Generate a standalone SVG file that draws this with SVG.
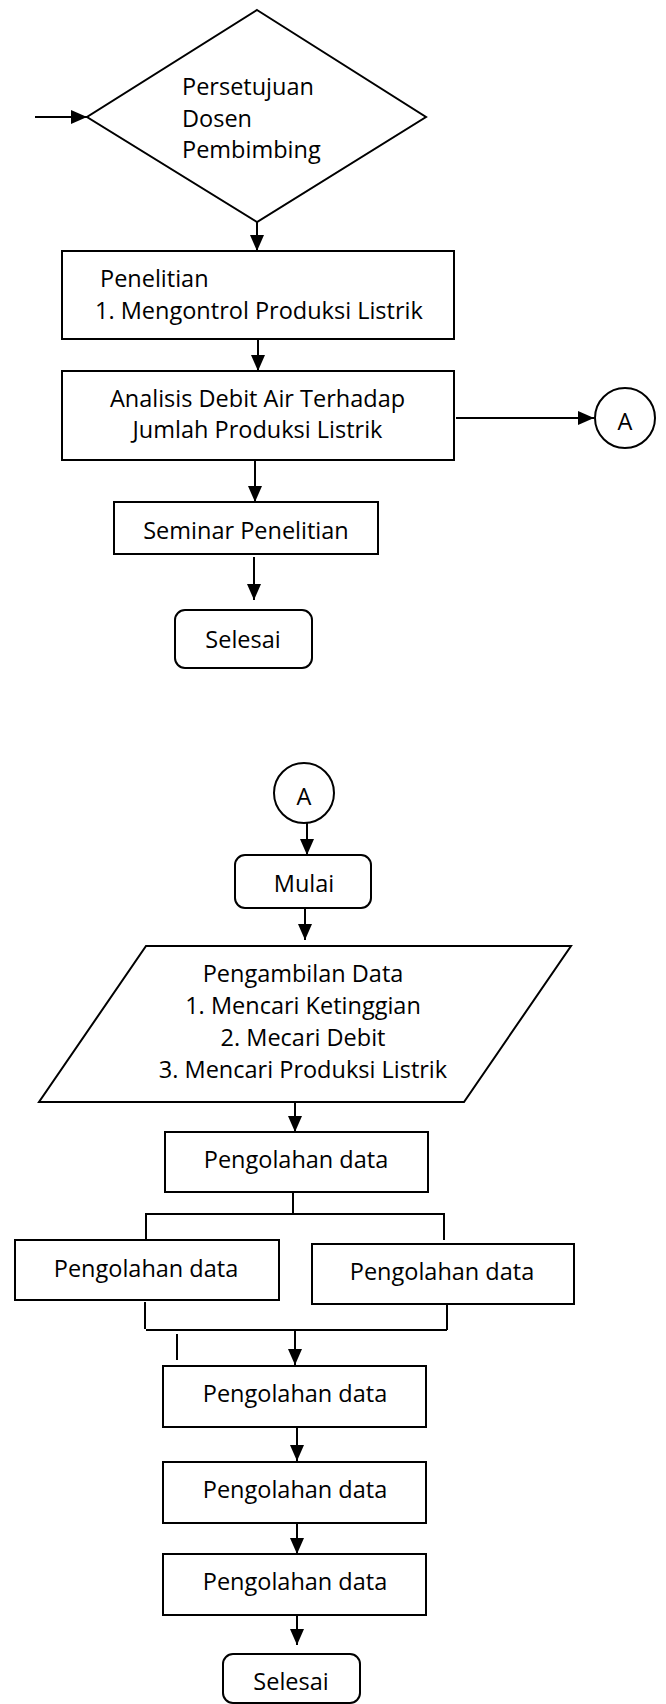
<svg xmlns="http://www.w3.org/2000/svg" width="666" height="1704" viewBox="0 0 666 1704">
<defs>
<style>
.s{fill:#fff;stroke:#000;stroke-width:2}
.c{fill:none;stroke:#000;stroke-width:2}
.t{font-family:"Open Sans","Noto Sans",sans-serif;font-size:23.5px;fill:#000}
.m{text-anchor:middle}
</style>
<marker id="ah" markerUnits="userSpaceOnUse" markerWidth="16" markerHeight="14" refX="16" refY="7" orient="auto">
<path d="M0,0 L16,7 L0,14 z" fill="#000"/>
</marker>
</defs>
<rect width="666" height="1704" fill="#fff"/>

<g id="connectors">
<line class="c" x1="35" y1="117" x2="87" y2="117" marker-end="url(#ah)"/>
<line class="c" x1="257" y1="222" x2="257" y2="251" marker-end="url(#ah)"/>
<line class="c" x1="258" y1="339" x2="258" y2="371" marker-end="url(#ah)"/>
<line class="c" x1="456" y1="418" x2="594" y2="418" marker-end="url(#ah)"/>
<line class="c" x1="255" y1="460" x2="255" y2="502" marker-end="url(#ah)"/>
<line class="c" x1="254" y1="557" x2="254" y2="600" marker-end="url(#ah)"/>
<line class="c" x1="307" y1="823" x2="307" y2="855" marker-end="url(#ah)"/>
<line class="c" x1="305" y1="908" x2="305" y2="940" marker-end="url(#ah)"/>
<line class="c" x1="295" y1="1102" x2="295" y2="1132" marker-end="url(#ah)"/>
<polyline class="c" points="146,1240 146,1214 444,1214 444,1240"/>
<line class="c" x1="293" y1="1192" x2="293" y2="1214"/>
<line class="c" x1="145" y1="1302" x2="145" y2="1329"/>
<line class="c" x1="447" y1="1305" x2="447" y2="1330"/>
<line class="c" x1="146" y1="1330" x2="447" y2="1330"/>
<line class="c" x1="177" y1="1334" x2="177" y2="1360"/>
<line class="c" x1="295" y1="1330" x2="295" y2="1365" marker-end="url(#ah)"/>
<line class="c" x1="297" y1="1427" x2="297" y2="1461" marker-end="url(#ah)"/>
<line class="c" x1="297" y1="1523" x2="297" y2="1554" marker-end="url(#ah)"/>
<line class="c" x1="297" y1="1615" x2="297" y2="1645" marker-end="url(#ah)"/>
</g>

<g id="n-persetujuan">
<polygon class="s" points="257,10 426,117 257,222 87,117"/>
<text class="t" x="182" y="95">Persetujuan</text>
<text class="t" x="182" y="127">Dosen</text>
<text class="t" x="182" y="158">Pembimbing</text>
</g>

<g id="n-penelitian">
<rect class="s" x="62" y="251" width="392" height="88"/>
<text class="t" x="100" y="287">Penelitian</text>
<text class="t" x="95" y="319">1. Mengontrol Produksi Listrik</text>
</g>

<g id="n-analisis">
<rect class="s" x="62" y="371" width="392" height="89"/>
<text class="t m" x="257.5" y="407">Analisis Debit Air Terhadap</text>
<text class="t m" x="257.5" y="438">Jumlah Produksi Listrik</text>
</g>

<g id="n-a1">
<circle class="s" cx="625" cy="418" r="30"/>
<text class="t m" x="625" y="430">A</text>
</g>

<g id="n-seminar">
<rect class="s" x="114" y="502" width="264" height="52"/>
<text class="t m" x="246" y="539">Seminar Penelitian</text>
</g>

<g id="n-selesai1">
<rect class="s" x="175" y="610" width="137" height="58" rx="10"/>
<text class="t m" x="243" y="648">Selesai</text>
</g>

<g id="n-a2">
<circle class="s" cx="304" cy="793" r="30"/>
<text class="t m" x="304" y="805">A</text>
</g>

<g id="n-mulai">
<rect class="s" x="235" y="855" width="136" height="53" rx="10"/>
<text class="t m" x="304" y="892">Mulai</text>
</g>

<g id="n-pengambilan">
<polygon class="s" points="146,946 571,946 464,1102 39,1102"/>
<text class="t m" x="303" y="982">Pengambilan Data</text>
<text class="t m" x="303" y="1014">1. Mencari Ketinggian</text>
<text class="t m" x="303" y="1046">2. Mecari Debit</text>
<text class="t m" x="303" y="1078">3. Mencari Produksi Listrik</text>
</g>

<g id="n-olah1">
<rect class="s" x="165" y="1132" width="263" height="60"/>
<text class="t m" x="296" y="1168">Pengolahan data</text>
</g>

<g id="n-olah-kiri">
<rect class="s" x="15" y="1240" width="264" height="60"/>
<text class="t m" x="146" y="1277">Pengolahan data</text>
</g>

<g id="n-olah-kanan">
<rect class="s" x="312" y="1244" width="262" height="60"/>
<text class="t m" x="442" y="1280">Pengolahan data</text>
</g>

<g id="n-olah2">
<rect class="s" x="163" y="1366" width="263" height="61"/>
<text class="t m" x="295" y="1402">Pengolahan data</text>
</g>

<g id="n-olah3">
<rect class="s" x="163" y="1462" width="263" height="61"/>
<text class="t m" x="295" y="1498">Pengolahan data</text>
</g>

<g id="n-olah4">
<rect class="s" x="163" y="1554" width="263" height="61"/>
<text class="t m" x="295" y="1590">Pengolahan data</text>
</g>

<g id="n-selesai2">
<rect class="s" x="223" y="1654" width="137" height="49" rx="10"/>
<text class="t m" x="291" y="1690">Selesai</text>
</g>
</svg>
